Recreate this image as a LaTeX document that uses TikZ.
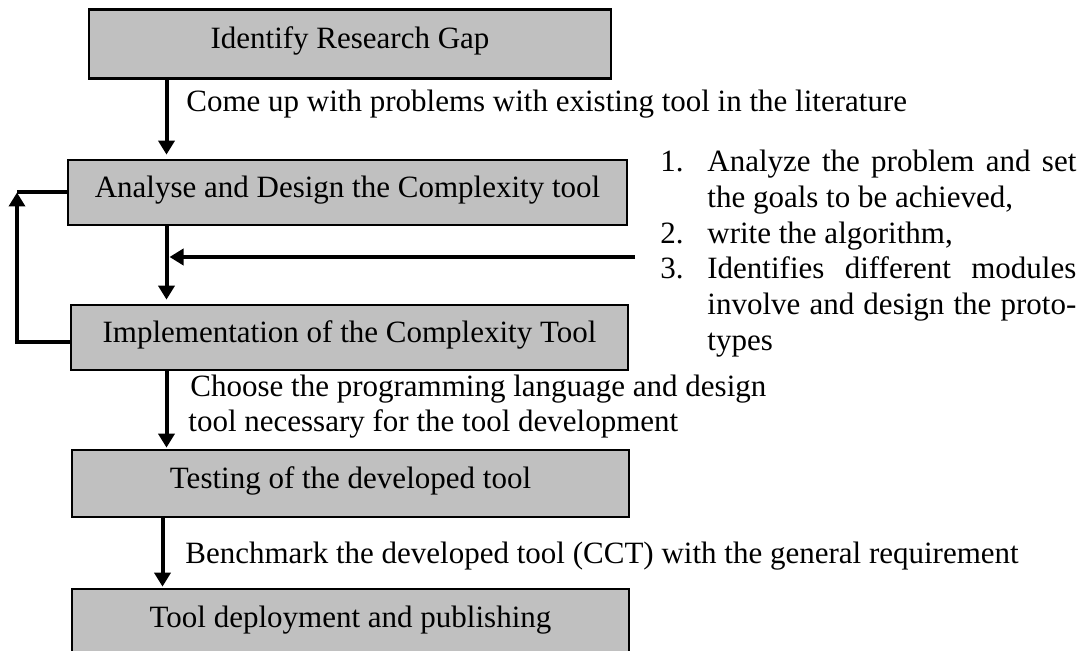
\documentclass[tikz,border=0pt]{standalone}
\usepackage{fontspec}
\setmainfont{Liberation Serif}
\usetikzlibrary{arrows.meta}
\definecolor{boxgray}{RGB}{192,192,192}
\begin{document}
\begin{tikzpicture}[x=0.5pt,y=-0.5pt,
  every node/.style={font=\fontsize{15.5}{17.5}\selectfont},
  stagebox/.style={draw=black, line width=1.35pt, fill=boxgray, inner sep=0pt, text height=8.5pt, text depth=3.5pt},
  flowarrow/.style={line width=2pt, -{Triangle[length=7pt,width=8pt]}},
  plainline/.style={line width=2pt},
  lbl/.style={anchor=base west, inner sep=0pt}]
\useasboundingbox (0,0) rectangle (1081,651);

% stages
\node[stagebox, minimum width=261pt, minimum height=34.5pt] (b1) at (350,44) {Identify Research Gap};
\node[stagebox, minimum width=279.5pt, minimum height=32.5pt] (b2) at (347.5,192.5) {Analyse and Design the Complexity tool};
\node[stagebox, minimum width=278.5pt, minimum height=32.5pt] (b3) at (349.5,337.5) {Implementation of the Complexity Tool};
\node[stagebox, minimum width=278.5pt, minimum height=33.5pt] (b4) at (350.5,483.5) {Testing of the developed tool};
\node[stagebox, minimum width=278.5pt, minimum height=33pt] (b5) at (350.5,622) {Tool deployment and publishing};

% helper coordinates
\coordinate (xa) at (166.5,0);
\coordinate (xb) at (162.5,0);
\coordinate (hs) at (635,257);
\coordinate (lp) at (17,192.5);

% connectors
\draw[flowarrow, shorten >=2pt] (b1.south -| xa) -- (b2.north -| xa);
\draw[flowarrow, shorten >=2pt] (b2.south -| xa) -- (b3.north -| xa);
\draw[flowarrow, shorten >=0.5pt] (b3.south -| xa) -- (b4.north -| xa);
\draw[flowarrow, shorten >=0.5pt] (b4.south -| xb) -- (b5.north -| xb);
\draw[flowarrow, shorten >=1.5pt] (hs) -- (hs -| xa);
\draw[flowarrow] ([yshift=-2.25pt]b3.west) -| (lp);
\draw[plainline] (b2.west) -- (lp);

% connector labels
\node[lbl] (t1) at (186,112) {Come up with problems with existing tool in the literature};
\node[lbl] (t2a) at (190,397) {Choose the programming language and design};
\node[lbl] (t2b) at (188,432) {tool necessary for the tool development};
\node[lbl] (t3) at (185,563) {Benchmark the developed tool (CCT) with the general requirement};

% list
\node[lbl] (n1) at (660,172) {1.};
\node[lbl] (l1) at (707,172) {\makebox[184.5pt][s]{Analyze the problem and set}};
\node[lbl] (l2) at (707,208) {the goals to be achieved,};
\node[lbl] (n2) at (660,244) {2.};
\node[lbl] (l3) at (707,244) {write the algorithm,};
\node[lbl] (n3) at (660,279) {3.};
\node[lbl] (l4) at (707,279) {\makebox[184.5pt][s]{Identifies different modules}};
\node[lbl] (l5) at (707,315) {\makebox[184.5pt][s]{involve and design the proto-}};
\node[lbl] (l6) at (707,351) {types};
\end{tikzpicture}
\end{document}
